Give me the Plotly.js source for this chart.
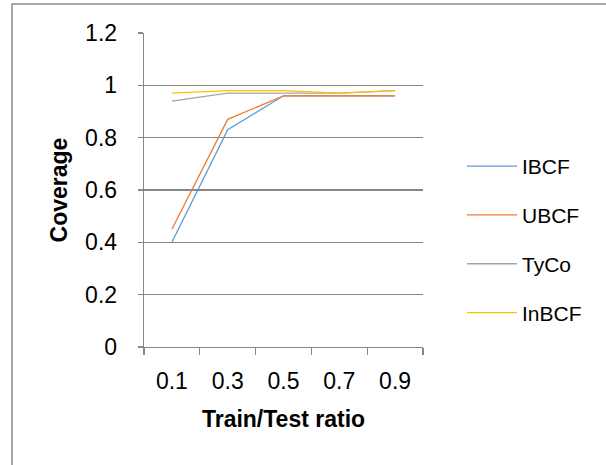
<!DOCTYPE html>
<html>
<head>
<meta charset="utf-8">
<script src="https://cdn.plot.ly/plotly-3.0.1.min.js"></script>
<style>
  html, body { margin: 0; padding: 0; background: #fff; overflow: hidden; }
  #chart { width: 606px; height: 465px; }
</style>
</head>
<body>
<div id="chart"></div>
<script>
const categories = ["0.1", "0.3", "0.5", "0.7", "0.9"];
const seriesNames = ["IBCF", "UBCF", "TyCo", "InBCF"];
const ibcf  = [0.40, 0.83, 0.96, 0.96, 0.96];
const ubcf  = [0.45, 0.87, 0.96, 0.96, 0.96];
const tyco  = [0.94, 0.97, 0.97, 0.97, 0.98];
const inbcf = [0.97, 0.98, 0.98, 0.97, 0.98];
const yTicks = [0, 0.2, 0.4, 0.6, 0.8, 1, 1.2];

const seriesValues = [ibcf, ubcf, tyco, inbcf];
const colors = ["#5B9BD5", "#ED7D31", "#A5A5A5", "#FFC000"];
const FONT = "Liberation Sans, Arial, sans-serif";

const traces = seriesNames.map((name, i) => ({
  type: "scatter",
  mode: "lines",
  name: name,
  x: categories,
  y: seriesValues[i],
  legendgroup: "g" + i,
  line: { color: colors[i], width: 1.3 },
  hoverinfo: "skip"
}));

// plot area in pixels: x 144..423, y 33.4..346.7
const L = 144, R = 423, T = 33.4, B = 346.7;
const pw = R - L, ph = B - T;

const layout = {
  width: 606,
  height: 465,
  margin: { l: L, r: 606 - R, t: T, b: 465 - B, pad: 0 },
  paper_bgcolor: "#ffffff",
  plot_bgcolor: "#ffffff",
  font: { family: FONT, size: 21, color: "#000000" },
  showlegend: true,
  legend: {
    xref: "container",
    yref: "container",
    x: 462 / 606,
    y: 1 - 146 / 465,
    xanchor: "left",
    yanchor: "top",
    font: { family: FONT, size: 21, color: "#000" },
    tracegroupgap: 18.5,
    itemwidth: 50,
    bgcolor: "rgba(0,0,0,0)"
  },
  xaxis: {
    type: "category",
    range: [-0.5, categories.length - 0.5],
    tickson: "boundaries",
    ticks: "outside",
    ticklen: 7,
    tickwidth: 1.3,
    tickcolor: "#868686",
    showline: true,
    linecolor: "#868686",
    linewidth: 1.3,
    showgrid: false,
    zeroline: false,
    ticklabelstandoff: 13,
    tickfont: { family: FONT, size: 23, color: "#000" },
    title: {
      text: "<b>Train/Test ratio</b>",
      font: { family: FONT, size: 23, color: "#000" },
      standoff: 18
    },
    fixedrange: true
  },
  yaxis: {
    range: [0, 1.2],
    tickvals: yTicks,
    ticktext: yTicks.map(v => String(v)),
    ticks: "outside",
    ticklen: 5,
    tickwidth: 1.3,
    tickcolor: "#868686",
    showline: true,
    linecolor: "#868686",
    linewidth: 1.3,
    showgrid: true,
    gridcolor: "#868686",
    gridwidth: 1.3,
    zeroline: false,
    ticklabelstandoff: 16,
    tickfont: { family: FONT, size: 23, color: "#000" },
    title: {
      text: "<b>Coverage</b>",
      font: { family: FONT, size: 23, color: "#000" },
      standoff: 11
    },
    fixedrange: true
  },
  shapes: [{
    type: "rect",
    xref: "paper",
    yref: "paper",
    x0: (12 - L) / pw,
    x1: (640 - L) / pw,
    y0: (B - 520) / ph,
    y1: (B - 4.5) / ph,
    line: { color: "#8C8C8C", width: 1.5 },
    fillcolor: "rgba(0,0,0,0)",
    layer: "below"
  }]
};

Plotly.newPlot("chart", traces, layout, { displayModeBar: false, staticPlot: true });
</script>
</body>
</html>
